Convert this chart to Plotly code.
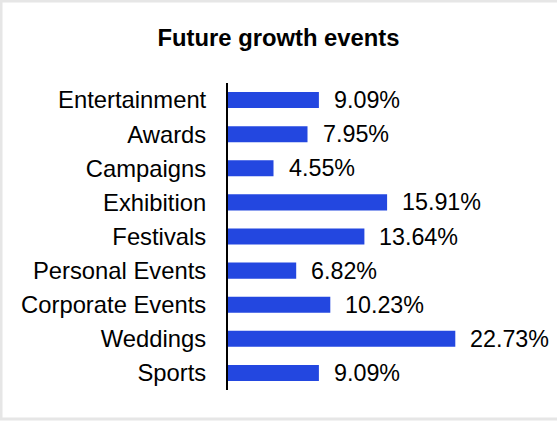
import plotly.graph_objects as go

# Event categories (top to bottom) and their share of future growth (%)
categories = ["Entertainment", "Awards", "Campaigns", "Exhibition", "Festivals",
              "Personal Events", "Corporate Events", "Weddings", "Sports"]
shares = [9.09, 7.95, 4.55, 15.91, 13.64, 6.82, 10.23, 22.73, 9.09]
value_labels = [f"{v:.2f}%" for v in shares]

W, H = 557, 421
L, R, T, B = 228, 29, 83, 31
pw, ph = W - L - R, H - T - B

FONT = "Liberation Sans, Arial, sans-serif"
BAR_COLOR = "#2347E0"

fig = go.Figure(
    go.Bar(
        x=shares,
        y=categories,
        orientation="h",
        marker=dict(color=BAR_COLOR, line=dict(width=0)),
        hoverinfo="skip",
    )
)

# Percentage labels to the right of each bar
for cat, v, lab in zip(categories, shares, value_labels):
    fig.add_annotation(
        x=v, y=cat, text=lab, showarrow=False,
        xanchor="left", yanchor="middle", xshift=13,
        font=dict(family=FONT, size=23.3, color="#000000"),
    )

# Light frame around the whole chart
def px_to_paper_x(p):
    return (p - L) / pw

def px_to_paper_y(p):
    return (H - B - p) / ph

fig.add_shape(
    type="rect", xref="paper", yref="paper",
    x0=px_to_paper_x(1), x1=px_to_paper_x(560),
    y0=px_to_paper_y(419), y1=px_to_paper_y(1),
    line=dict(color="#E6E6E6", width=3),
    fillcolor="rgba(0,0,0,0)", layer="below",
)

fig.update_layout(
    width=W, height=H,
    margin=dict(l=L, r=R, t=T, b=B),
    paper_bgcolor="white", plot_bgcolor="white",
    bargap=0.53,
    showlegend=False,
    title=dict(
        text="<b>Future growth events</b>",
        x=0.5, xref="container", xanchor="center",
        y=1 - 38 / H, yref="container", yanchor="middle",
        font=dict(family=FONT, size=23.8, color="#000000"),
    ),
    xaxis=dict(range=[0, pw / 10], visible=False, fixedrange=True),
    yaxis=dict(
        autorange="reversed",
        showline=True, linecolor="#000000", linewidth=2,
        showgrid=False, zeroline=False, ticks="",
        ticklabelstandoff=15,
        tickfont=dict(family=FONT, size=23.8, color="#000000"),
        fixedrange=True,
    ),
    font=dict(family=FONT),
)

fig.write_html("out.html")
